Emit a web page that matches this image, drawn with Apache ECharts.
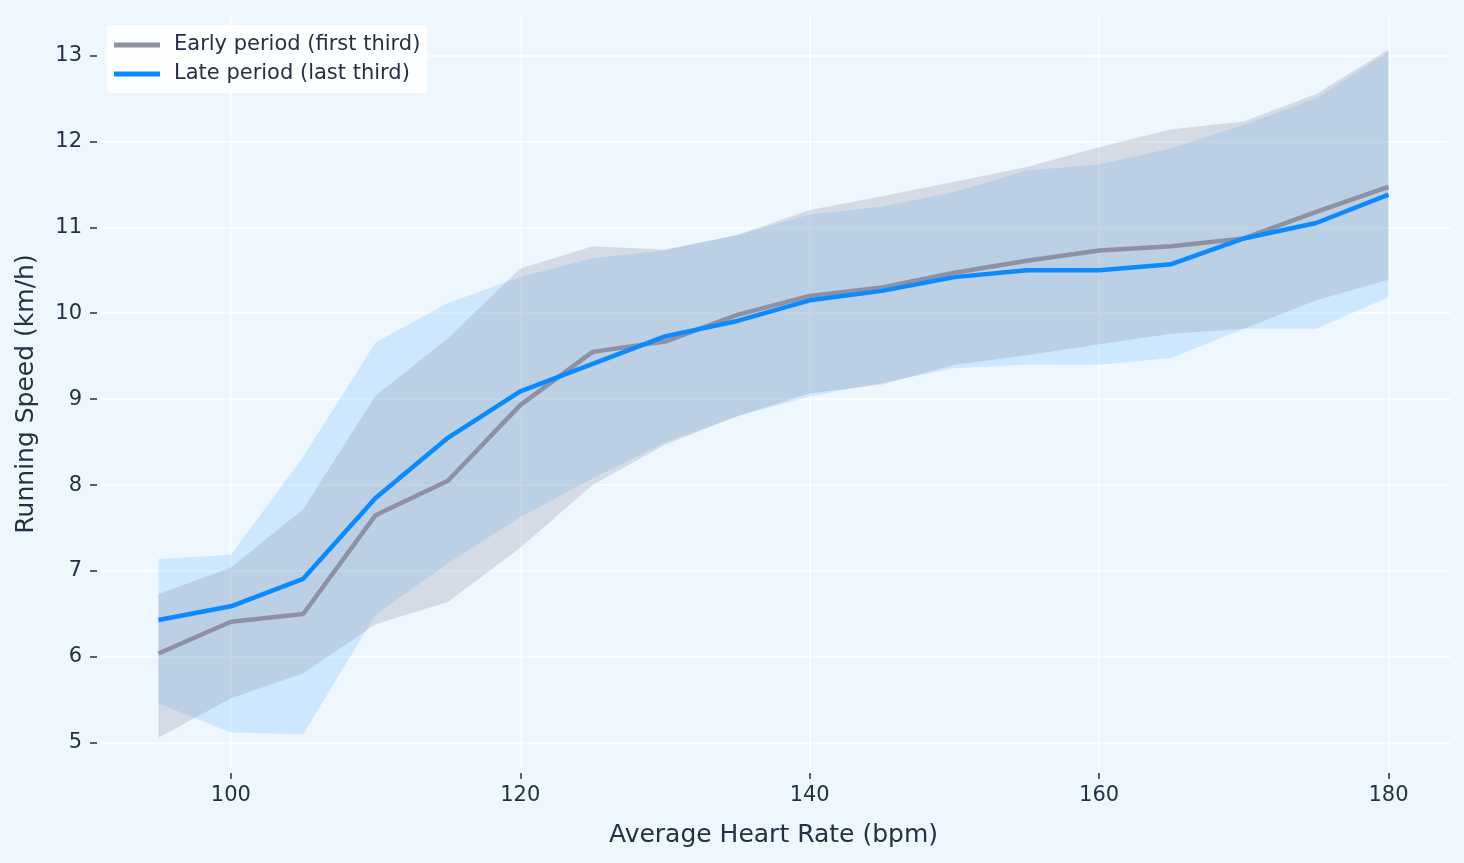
<!DOCTYPE html>
<html>
<head>
<meta charset="utf-8">
<script src="https://cdn.jsdelivr.net/npm/echarts@6/dist/echarts.min.js"></script>
<style>
html,body{margin:0;padding:0;background:#eff7fe;}
#c{width:1464px;height:863px;}
</style>
</head>
<body>
<div id="c"></div>
<script>
const heartRate = [95,100,105,110,115,120,125,130,135,140,145,150,155,160,165,170,175,180];
const earlyMean  = [6.04,6.41,6.50,7.65,8.05,8.93,9.55,9.67,9.98,10.20,10.30,10.47,10.61,10.73,10.78,10.87,11.18,11.47];
const earlyUpper = [6.73,7.04,7.72,9.04,9.71,10.52,10.78,10.74,10.91,11.20,11.36,11.53,11.70,11.93,12.14,12.23,12.55,13.07];
const earlyLower = [5.06,5.52,5.81,6.38,6.64,7.27,8.00,8.47,8.80,9.07,9.17,9.40,9.51,9.64,9.76,9.82,10.15,10.39];
const lateMean   = [6.43,6.59,6.91,7.85,8.55,9.09,9.41,9.73,9.91,10.15,10.26,10.42,10.50,10.50,10.57,10.87,11.05,11.38];
const lateUpper  = [7.14,7.19,8.33,9.66,10.12,10.42,10.64,10.73,10.91,11.15,11.24,11.41,11.66,11.73,11.92,12.19,12.50,13.04];
const lateLower  = [5.46,5.12,5.10,6.49,7.09,7.63,8.08,8.50,8.80,9.03,9.19,9.36,9.40,9.40,9.48,9.82,9.82,10.19];
const xTicks = [100,120,140,160,180];
const yTicks = [5,6,7,8,9,10,11,12,13];
const earlyName = 'Early period (first third)';
const lateName = 'Late period (last third)';

const GRAY = '#8e91a3';
const BLUE = '#0a8aff';
const TEXT = '#243044';
const FONT = 'DejaVu Sans';

function bandSeries(lower, upper, color, opacity) {
  return {
    type: 'custom',
    silent: true,
    z: 1,
    data: heartRate.map((x, i) => [x, lower[i], upper[i]]),
    encode: { x: 0, y: [1, 2] },
    renderItem: function (params, api) {
      if (params.dataIndex !== 0) return null;
      const pts = [];
      for (let i = 0; i < heartRate.length; i++) pts.push(api.coord([heartRate[i], upper[i]]));
      for (let i = heartRate.length - 1; i >= 0; i--) pts.push(api.coord([heartRate[i], lower[i]]));
      return { type: 'polygon', shape: { points: pts }, style: { fill: color, opacity: opacity } };
    }
  };
}

function lineSeries(name, values, color) {
  return {
    name: name, type: 'line', z: 3,
    data: heartRate.map((x, i) => [x, values[i]]),
    symbol: 'none', showSymbol: false,
    lineStyle: { color: color, width: 4.5 },
    itemStyle: { color: color },
    emphasis: { disabled: true }
  };
}

const chart = echarts.init(document.getElementById('c'));
chart.setOption({
  backgroundColor: '#eff7fe',
  animation: false,
  textStyle: { fontFamily: FONT },
  grid: { left: 97, right: 14, top: 15, bottom: 90, containLabel: false },
  legend: {
    orient: 'vertical', left: 107, top: 25,
    data: [earlyName, lateName],
    icon: 'rect', itemWidth: 46, itemHeight: 5, itemGap: 7,
    padding: [9, 7, 8, 7],
    backgroundColor: 'rgba(255,255,255,0.85)', borderRadius: 4,
    textStyle: { color: TEXT, fontSize: 21, fontFamily: FONT, lineHeight: 22, padding: [0, 0, 0, 9] }
  },
  xAxis: {
    type: 'value', min: 90.75, max: 184.25,
    name: 'Average Heart Rate (bpm)', nameLocation: 'middle', nameGap: 50,
    nameTextStyle: { color: TEXT, fontSize: 25, fontFamily: FONT },
    axisLine: { show: false },
    axisTick: { show: true, length: 6, customValues: xTicks, lineStyle: { color: TEXT, width: 1.5 } },
    axisLabel: { customValues: xTicks, color: TEXT, fontSize: 21, margin: 12, fontFamily: FONT },
    splitLine: { show: true, lineStyle: { color: '#ffffff', width: 1.5 } }
  },
  yAxis: {
    type: 'value', min: 4.65, max: 13.47,
    name: 'Running Speed (km/h)', nameLocation: 'middle', nameGap: 58,
    nameTextStyle: { color: TEXT, fontSize: 25, fontFamily: FONT },
    axisLine: { show: false },
    axisTick: { show: true, length: 7, customValues: yTicks, lineStyle: { color: TEXT, width: 1.5 } },
    axisLabel: { customValues: yTicks, color: TEXT, fontSize: 21, margin: 15, fontFamily: FONT },
    splitLine: { show: true, lineStyle: { color: '#ffffff', width: 1.5 } }
  },
  series: [
    bandSeries(lateLower, lateUpper, BLUE, 0.15),
    bandSeries(earlyLower, earlyUpper, GRAY, 0.27),
    lineSeries(earlyName, earlyMean, GRAY),
    lineSeries(lateName, lateMean, BLUE)
  ]
});
</script>
</body>
</html>
